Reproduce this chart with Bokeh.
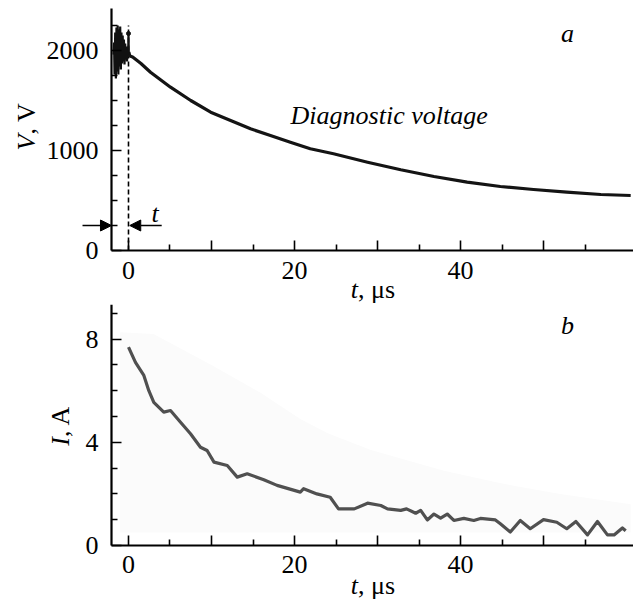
import math
from bokeh.plotting import figure
from bokeh.layouts import column
from bokeh.models import Label, Arrow, NormalHead, FixedTicker, Range1d
from bokeh.embed import file_html
from bokeh.resources import INLINE

# ---- data ----
noise_t = [-1.8, -1.74, -1.68, -1.6, -1.52, -1.45, -1.38, -1.3, -1.22, -1.15, -1.08, -1.0,
           -0.92, -0.85, -0.78, -0.7, -0.62, -0.55, -0.48, -0.4, -0.32, -0.25, -0.18,
           -0.1, -0.04, 0.0, 0.04, 0.1, 0.2]
noise_v = [1960, 2080, 1760, 2180, 1720, 2230, 1790, 2250, 1760, 2210, 1840, 2240,
           1810, 2180, 1870, 2150, 1890, 2110, 1860, 2070, 1910, 2040, 1890,
           2010, 1940, 2170, 1950, 1985, 1950]
decay_t = [0.0, 0.5, 1.5, 2.65, 5.06, 7.5, 9.9, 12.3, 14.7, 17.1, 19.5, 21.9, 24.7, 28.8,
           32.8, 36.8, 40.8, 44.8, 48.8, 52.8, 56.9, 60.5]
decay_v = [1950, 1935, 1870, 1783, 1633, 1500, 1383, 1300, 1217, 1150, 1083, 1017, 967, 883,
           807, 740, 683, 640, 610, 583, 560, 550]
dash_t = [0, 0]
dash_v = [0, 2250]

cur_t = [0, 0.84, 1.85, 2.45, 3.05, 4.25, 5.06, 6.27, 7.47, 8.67, 9.47, 10.3, 11.9, 13.1,
         14.3, 16.3, 17.9, 20.7, 21.1, 22.7, 24.3, 25.3, 27.2, 28.8, 30.4, 31.2, 32.8,
         33.5, 34.6, 35.2, 36.0, 36.8, 37.6, 38.4, 39.2, 40.4, 41.6, 42.4, 44.2, 44.8,
         46.0, 47.2, 48.4, 50.0, 51.6, 52.8, 53.9, 55.3, 56.5, 57.7, 58.5, 59.5, 59.9]
cur_i = [7.69, 7.1, 6.59, 6.0, 5.55, 5.17, 5.23, 4.78, 4.33, 3.81, 3.68, 3.23, 3.1, 2.65,
         2.78, 2.55, 2.33, 2.07, 2.2, 2.0, 1.87, 1.42, 1.42, 1.64, 1.55, 1.42, 1.36,
         1.42, 1.25, 1.36, 0.99, 1.22, 1.06, 1.22, 0.97, 1.05, 0.97, 1.05, 0.99, 0.84,
         0.52, 0.97, 0.65, 1.0, 0.9, 0.65, 0.93, 0.41, 0.93, 0.41, 0.41, 0.68, 0.57]
shade_t = [-1.0, 3.0, 10.0, 16.0, 20.7, 24.0, 29.2, 38.0, 45.0, 52.0, 60.5, 60.5, -1.0]
shade_i = [8.27, 8.2, 7.0, 5.9, 4.9, 4.35, 3.7, 2.9, 2.4, 2.0, 1.6, 0.5, 0.5]

x_major = [0, 10, 20, 30, 40, 50]
x_minor = [5, 15, 25, 35, 45, 55]
x_labels = {10: "", 30: "", 50: ""}
v_major = [0, 1000, 2000]
v_minor = [250, 500, 750, 1250, 1500, 1750, 2250]
i_major = [0, 4, 8]
i_minor = [1, 2, 3, 5, 6, 7, 9]

SERIF = "Liberation Serif"
FS = "26px"
W = 633
T_AXIS0, T_AXIS1 = -2.05, 60.84      # extent of the time axes
XR = (-15.42, 60.84)                 # whole canvas width in data units
V_TOP = 2420
I_TOP = 9.34


def make_fig(height, yr, ybounds, ymaj, ymin):
    p = figure(width=W, height=height, output_backend="svg", toolbar_location=None,
               x_range=Range1d(*XR), y_range=Range1d(*yr),
               min_border_left=0, min_border_right=0, min_border_top=0,
               min_border_bottom=0)
    p.outline_line_color = None
    p.grid.visible = False
    xa, ya = p.xaxis[0], p.yaxis[0]
    xa.fixed_location = 0
    ya.fixed_location = T_AXIS0
    xa.bounds = (T_AXIS0, T_AXIS1)
    ya.bounds = ybounds
    for ax in (xa, ya):
        ax.axis_line_width = 2.2
        ax.axis_line_color = "black"
        ax.major_tick_line_width = 1.6
        ax.minor_tick_line_width = 1.6
        ax.major_tick_line_color = "black"
        ax.minor_tick_line_color = "black"
        ax.major_tick_in = 10
        ax.major_tick_out = 0
        ax.minor_tick_in = 6
        ax.minor_tick_out = 0
        ax.major_label_text_font = SERIF
        ax.major_label_text_font_size = FS
        ax.major_label_text_color = "black"
    xa.ticker = FixedTicker(ticks=x_major, minor_ticks=x_minor)
    xa.major_label_overrides = x_labels
    xa.major_label_standoff = 11
    ya.ticker = FixedTicker(ticks=ymaj, minor_ticks=ymin)
    ya.major_label_standoff = 13
    return p


def lab(p, x, y, text, italic=False, align="left", angle=0.0):
    p.add_layout(Label(x=x, y=y, text=text, text_font=SERIF, text_font_size=FS,
                       text_font_style="italic" if italic else "normal",
                       text_color="black", text_align=align,
                       text_baseline="middle", angle=angle))


def head():
    return NormalHead(size=11, fill_color="black", line_color="black")


# ---- panel a: canvas rows 0..304, V=0 at row 250, 100 px per 1000 V ----
pa = make_fig(304, (-540, 2500), (0, V_TOP), v_major, v_minor)
pa.line(dash_t, dash_v, line_color="black", line_width=1.6, line_dash="5 3")
pa.line(noise_t, noise_v, line_color="#111111", line_width=2.2)
pa.line(decay_t, decay_v, line_color="#141414", line_width=3.2, line_join="round")
pa.scatter([0], [2170], size=4, color="#111111")
pa.add_layout(Arrow(x_start=-5.54, y_start=250, x_end=T_AXIS0, y_end=250,
                    line_width=1.6, line_color="black", end=head()))
pa.add_layout(Arrow(x_start=4.0, y_start=250, x_end=0.15, y_end=250,
                    line_width=1.6, line_color="black", end=head()))
lab(pa, 3.2, 370, "t", italic=True, align="center")
lab(pa, 31.4, 1350, "Diagnostic voltage", italic=True, align="center")
lab(pa, 52.9, 2170, "a", italic=True, align="center")
lab(pa, 26.78, -390, "t", italic=True)
lab(pa, 27.65, -390, ", \u03bcs")
lab(pa, -12.29, 1000, "V", italic=True, angle=math.pi / 2)
lab(pa, -12.29, 1160, ", V", angle=math.pi / 2)

# ---- panel b: canvas rows 304..600, I=0 at row 545, 25.8 px per A ----
pb = make_fig(296, (-2.132, 9.341), (0, I_TOP), i_major, i_minor)
pb.patch(shade_t, shade_i, fill_color="#fbfbfb", line_color=None)
pb.line(cur_t, cur_i, line_color="#505050", line_width=3.2, line_join="round")
lab(pb, 52.9, 8.53, "b", italic=True, align="center")
lab(pb, 26.78, -1.55, "t", italic=True)
lab(pb, 27.65, -1.55, ", \u03bcs")
lab(pb, -8.19, 3.87, "I", italic=True, angle=math.pi / 2)
lab(pb, -8.19, 4.205, ", A", angle=math.pi / 2)

layout = column(pa, pb, spacing=0)
open("out.html", "w").write(file_html(layout, INLINE))
